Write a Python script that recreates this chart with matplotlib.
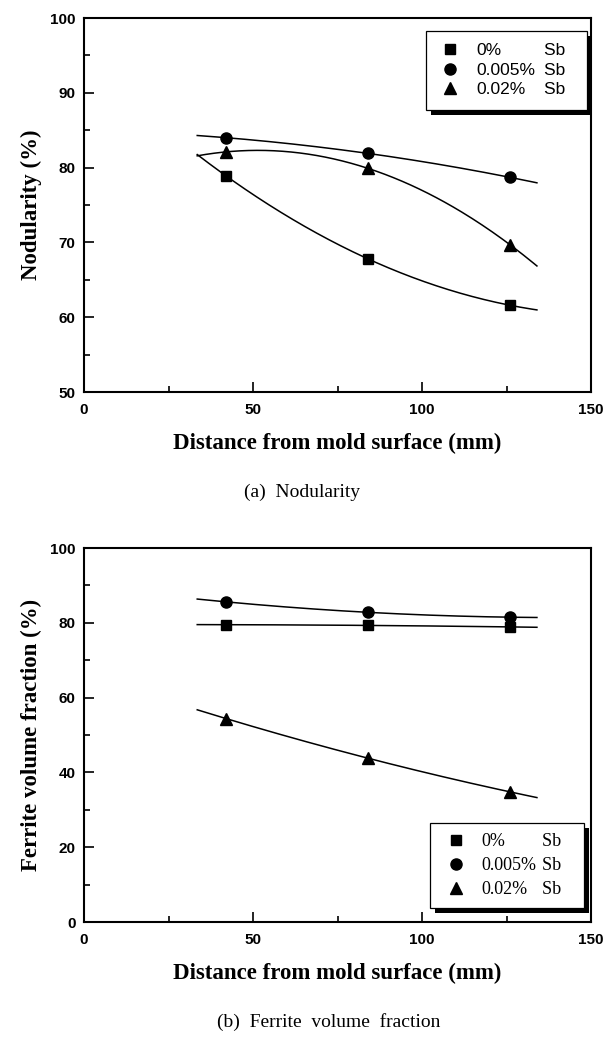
import numpy as np
import matplotlib
matplotlib.use("Agg")
import matplotlib.pyplot as plt
from matplotlib.lines import Line2D
from matplotlib.patches import Rectangle
from matplotlib.ticker import MultipleLocator

# ---------------- data ----------------
distance = [42, 84, 126]
series_labels = ["0%", "0.005%", "0.02%"]
series_unit = "Sb"
markers = ["s", "o", "^"]

nodularity_0 = [78.9, 67.8, 61.6]
nodularity_0005 = [84.0, 81.9, 78.7]
nodularity_002 = [82.1, 79.9, 69.7]

ferrite_0 = [79.5, 79.3, 78.9]
ferrite_0005 = [85.6, 82.8, 81.5]
ferrite_002 = [54.4, 43.8, 34.8]

fit_range = (33.5, 134.0)

SERIF = ["Liberation Serif", "DejaVu Serif"]
SANS = ["Liberation Sans", "DejaVu Sans"]

fig = plt.figure(figsize=(6.06, 10.45), dpi=100)
W, H = 606, 1045


def axes_rect(l, r, t, b):
    return [l / W, 1 - b / H, (r - l) / W, (b - t) / H]


ax1 = fig.add_axes(axes_rect(84, 591, 18, 392))
ax2 = fig.add_axes(axes_rect(84, 591, 548, 922))


def draw_panel(ax, ys, ylim, ymajor, yminor, ylabel, legend_font, legend_size,
               legend_anchor, unit_pad, leg_kw):
    xs = np.asarray(distance, float)
    xf = np.linspace(fit_range[0], fit_range[1], 200)
    handles = []
    for y, m in zip(ys, markers):
        coef = np.polyfit(xs, np.asarray(y, float), 2)
        ax.plot(xf, np.polyval(coef, xf), color="black", lw=1.1, zorder=2)
        ms = 8.5 if m == "^" else (8 if m == "o" else 7.5)
        ax.plot(xs, y, linestyle="none", marker=m, color="black", ms=ms, zorder=3)
        handles.append(Line2D([], [], linestyle="none", marker=m, color="black", ms=ms))
    ax.set_xlim(0, 150)
    ax.set_ylim(*ylim)
    ax.xaxis.set_major_locator(MultipleLocator(50))
    ax.xaxis.set_minor_locator(MultipleLocator(25))
    ax.yaxis.set_major_locator(MultipleLocator(ymajor))
    ax.yaxis.set_minor_locator(MultipleLocator(yminor))
    ax.tick_params(which="both", direction="in", top=False, right=False, width=1.2)
    ax.tick_params(which="major", length=7)
    ax.tick_params(which="minor", length=4.5)
    ax.tick_params(axis="x", pad=8)
    ax.tick_params(axis="y", pad=6)
    for lab in ax.get_xticklabels() + ax.get_yticklabels():
        lab.set_fontfamily(SANS)
        lab.set_fontweight("bold")
        lab.set_fontsize(11)
    for s in ax.spines.values():
        s.set_linewidth(1.5)
        s.set_color("black")
    ax.set_xlabel("Distance from mold surface (mm)", family=SERIF, weight="bold",
                  fontsize=16.5, labelpad=11)
    ax.set_ylabel(ylabel, family=SERIF, weight="bold", fontsize=16.5, labelpad=6)

    blanks = [Line2D([], [], linestyle="none") for _ in range(3)]
    leg = ax.legend(handles + blanks,
                    series_labels + [series_unit + " " * unit_pad] * 3, ncol=2,
                    loc="upper right", bbox_to_anchor=legend_anchor,
                    bbox_transform=ax.transAxes,
                    prop={"family": legend_font, "size": legend_size},
                    frameon=True, fancybox=False, edgecolor="black", framealpha=1,
                    borderaxespad=0, **leg_kw)
    leg.get_frame().set_linewidth(0.9)
    leg.set_zorder(6)
    return leg


leg1 = draw_panel(ax1, [nodularity_0, nodularity_0005, nodularity_002], (50, 100), 10, 5,
                  "Nodularity (%)", SANS, 12.5, (0.992, 0.965), 2,
                  dict(handlelength=1.4, handletextpad=0.8, columnspacing=-1.72,
                       labelspacing=0.25, borderpad=0.7))
leg2 = draw_panel(ax2, [ferrite_0, ferrite_0005, ferrite_002], (0, 100), 20, 10,
                  "Ferrite volume fraction (%)", SERIF, 13, (0.987, 0.265), 3,
                  dict(handlelength=1.8, handletextpad=0.5, columnspacing=-2.0,
                       labelspacing=0.4, borderpad=0.55))

fig.text(302 / W, 1 - 492 / H, "(a)  Nodularity", family=SERIF, fontsize=14,
         ha="center", va="center")
fig.text(329 / W, 1 - 1022 / H, "(b)  Ferrite  volume  fraction", family=SERIF, fontsize=14,
         ha="center", va="center")

fig.canvas.draw()
for ax, leg in [(ax1, leg1), (ax2, leg2)]:
    bb = leg.get_frame().get_window_extent()
    inv = ax.transAxes.inverted()
    (x0, y0), (x1, y1) = inv.transform([[bb.x0 + 5, bb.y0 - 5], [bb.x1 + 5, bb.y1 - 5]])
    ax.add_patch(Rectangle((x0, y0), x1 - x0, y1 - y0, transform=ax.transAxes,
                           facecolor="black", edgecolor="none", zorder=5.5, clip_on=False))

fig.savefig("out.png", dpi=100)
